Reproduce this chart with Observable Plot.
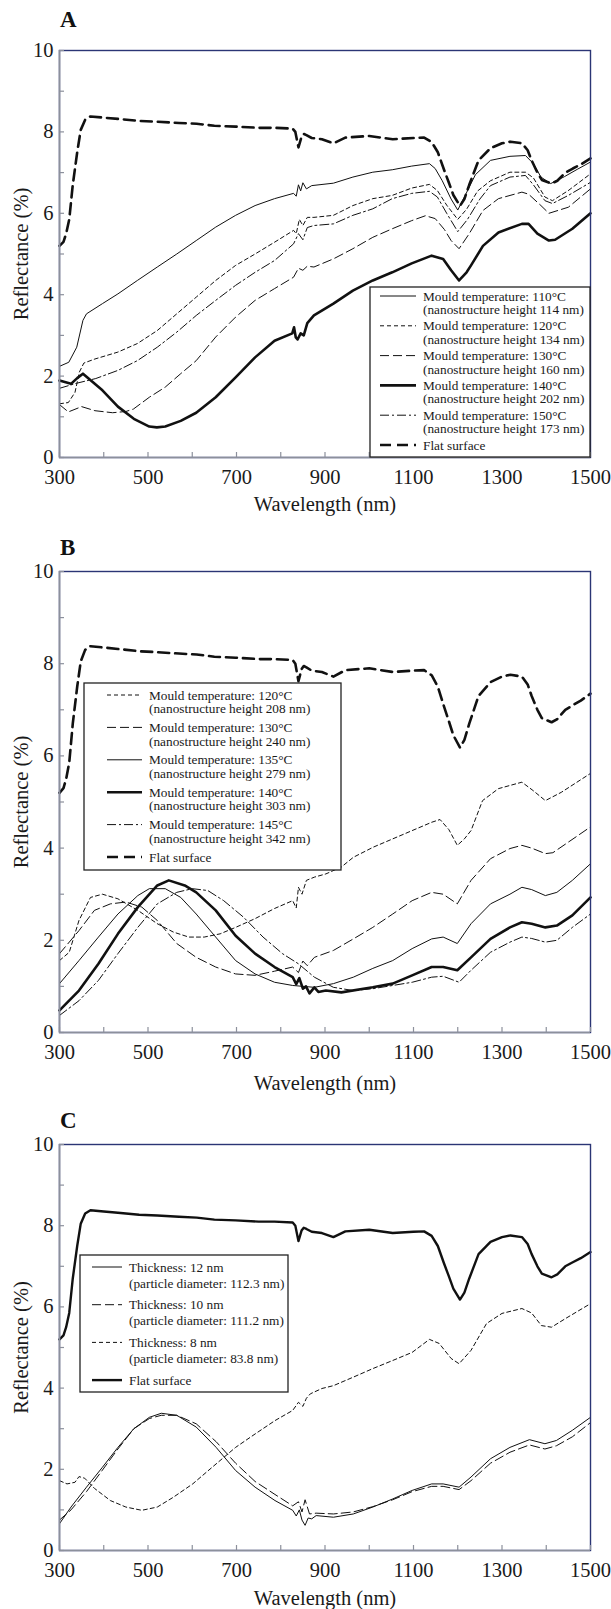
<!DOCTYPE html>
<html>
<head>
<meta charset="utf-8">
<script src="https://cdn.jsdelivr.net/npm/d3@7"></script>
<script src="https://cdn.jsdelivr.net/npm/@observablehq/plot@0.6"></script>
<style>
  html, body { margin: 0; padding: 0; background: #fff; }
  #wrap { position: relative; width: 611px; height: 1609px; overflow: hidden; background: #fff; }
  #wrap > svg { position: absolute; left: 0; }
  #wrap svg, #wrap svg text { font-family: 'Liberation Serif', 'Times New Roman', Times, serif !important; }
</style>
</head>
<body>
<div id="wrap"></div>
<script>
// ---------------- axis ticks ----------------
const X_MINOR = [300, 400, 500, 600, 700, 800, 900, 1000, 1100, 1200, 1300, 1400, 1500];
const X_LABELS = [300, 500, 700, 900, 1100, 1300, 1500];
const Y_MINOR = [0, 1, 2, 3, 4, 5, 6, 7, 8, 9, 10];
const Y_LABELS = [0, 2, 4, 6, 8, 10];

// ---------------- flat surface (same reference in A, B, C) ----------------
const flatNm = [300, 309, 315, 322, 330, 340, 348, 358, 370, 400, 432, 480, 521, 570, 610, 650, 698, 750, 786, 827, 833, 840, 847, 852, 858, 870, 893, 919, 946, 1000, 1053, 1100, 1124, 1141, 1155, 1168, 1180, 1190, 1205, 1215, 1226, 1247, 1274, 1300, 1319, 1345, 1358, 1367, 1380, 1390, 1412, 1425, 1443, 1460, 1478, 1500];
const flatR  = [5.2, 5.3, 5.5, 5.85, 6.7, 7.5, 8.05, 8.3, 8.38, 8.35, 8.32, 8.27, 8.25, 8.22, 8.2, 8.15, 8.13, 8.1, 8.1, 8.08, 8.0, 7.62, 7.88, 7.95, 7.92, 7.85, 7.82, 7.72, 7.86, 7.9, 7.82, 7.85, 7.86, 7.75, 7.5, 7.1, 6.75, 6.45, 6.18, 6.35, 6.7, 7.3, 7.6, 7.72, 7.76, 7.72, 7.55, 7.3, 7.0, 6.82, 6.73, 6.8, 7.0, 7.1, 7.2, 7.35];

// ---------------- panel A ----------------
const a110Nm = [300, 321, 339, 353, 361, 397, 432, 476, 521, 565, 609, 653, 698, 742, 786, 829, 835, 840, 845, 850, 858, 870, 919, 963, 1008, 1052, 1096, 1136, 1149, 1165, 1185, 1200, 1215, 1240, 1274, 1318, 1353, 1371, 1388, 1410, 1441, 1470, 1500];
const a110R  = [2.24, 2.34, 2.71, 3.37, 3.53, 3.78, 4.02, 4.35, 4.68, 5.0, 5.33, 5.66, 5.95, 6.19, 6.36, 6.49, 6.42, 6.7, 6.55, 6.75, 6.6, 6.68, 6.74, 6.89, 7.01, 7.07, 7.16, 7.22, 7.1, 6.8, 6.35, 6.08, 6.4, 6.95, 7.3, 7.4, 7.42, 7.22, 6.89, 6.73, 6.9, 7.08, 7.26];
const a120Nm = [300, 320, 335, 345, 355, 380, 432, 476, 521, 565, 609, 653, 698, 742, 786, 829, 835, 842, 850, 860, 875, 919, 963, 1008, 1052, 1096, 1136, 1154, 1175, 1200, 1220, 1245, 1274, 1318, 1353, 1371, 1397, 1414, 1450, 1500];
const a120R  = [1.32, 1.35, 1.6, 2.1, 2.32, 2.42, 2.59, 2.8, 3.12, 3.53, 3.94, 4.35, 4.72, 5.0, 5.29, 5.58, 5.5, 5.85, 5.7, 5.9, 5.9, 5.95, 6.19, 6.36, 6.44, 6.62, 6.71, 6.56, 6.2, 5.85, 6.1, 6.55, 6.8, 7.01, 7.01, 6.87, 6.4, 6.31, 6.56, 6.97];
const a130Nm = [300, 320, 350, 380, 420, 450, 467, 503, 539, 574, 609, 653, 698, 742, 786, 829, 840, 850, 860, 875, 919, 963, 1008, 1052, 1096, 1127, 1149, 1170, 1185, 1203, 1226, 1257, 1292, 1345, 1360, 1388, 1406, 1450, 1500];
const a130R  = [1.3, 1.12, 1.25, 1.15, 1.1, 1.13, 1.19, 1.48, 1.73, 2.06, 2.38, 2.96, 3.45, 3.86, 4.15, 4.43, 4.65, 4.6, 4.7, 4.68, 4.88, 5.13, 5.41, 5.62, 5.82, 5.94, 5.87, 5.6, 5.33, 5.13, 5.5, 6.07, 6.36, 6.52, 6.47, 6.19, 6.0, 6.15, 6.6];
const a140Nm = [300, 326, 340, 353, 371, 397, 432, 468, 503, 520, 539, 574, 609, 653, 698, 742, 786, 826, 830, 834, 838, 845, 852, 860, 875, 919, 963, 1008, 1052, 1096, 1141, 1167, 1185, 1203, 1220, 1230, 1257, 1292, 1345, 1360, 1380, 1406, 1420, 1459, 1500];
const a140R  = [1.89, 1.81, 1.95, 2.06, 1.89, 1.65, 1.25, 0.95, 0.76, 0.74, 0.76, 0.9, 1.1, 1.48, 1.97, 2.46, 2.87, 3.05, 3.2, 2.95, 2.9, 3.05, 3.0, 3.3, 3.49, 3.78, 4.1, 4.35, 4.55, 4.77, 4.96, 4.88, 4.6, 4.35, 4.55, 4.72, 5.2, 5.53, 5.74, 5.74, 5.5, 5.33, 5.35, 5.62, 6.0];
const a150Nm = [300, 337, 382, 432, 476, 521, 565, 609, 653, 698, 742, 786, 829, 840, 850, 860, 875, 919, 963, 1008, 1052, 1096, 1136, 1154, 1175, 1200, 1222, 1250, 1274, 1318, 1353, 1371, 1397, 1414, 1450, 1500];
const a150R  = [1.7, 1.82, 1.94, 2.14, 2.38, 2.71, 3.08, 3.49, 3.86, 4.23, 4.55, 4.84, 5.25, 5.5, 5.35, 5.65, 5.7, 5.74, 5.95, 6.11, 6.36, 6.49, 6.54, 6.4, 6.0, 5.55, 5.85, 6.35, 6.68, 6.89, 6.93, 6.7, 6.31, 6.24, 6.44, 6.76];

// ---------------- panel B ----------------
const b120Nm = [300, 322, 344, 370, 397, 432, 477, 521, 557, 592, 627, 663, 698, 742, 786, 827, 835, 840, 848, 858, 876, 902, 937, 964, 1009, 1053, 1097, 1141, 1160, 1180, 1199, 1215, 1230, 1256, 1292, 1345, 1370, 1398, 1434, 1500];
const b120R  = [1.56, 1.74, 2.43, 2.93, 3.0, 2.9, 2.65, 2.36, 2.18, 2.07, 2.07, 2.14, 2.28, 2.47, 2.69, 2.86, 2.7, 3.15, 3.0, 3.3, 3.37, 3.44, 3.59, 3.8, 4.02, 4.2, 4.38, 4.56, 4.62, 4.4, 4.06, 4.2, 4.38, 5.03, 5.29, 5.43, 5.25, 5.03, 5.21, 5.62];
const b130Nm = [300, 344, 379, 415, 450, 486, 521, 565, 609, 653, 698, 742, 786, 827, 840, 850, 860, 876, 919, 964, 1008, 1053, 1097, 1141, 1167, 1199, 1230, 1274, 1318, 1345, 1367, 1398, 1415, 1450, 1500];
const b130R  = [1.71, 2.21, 2.65, 2.79, 2.83, 2.72, 2.43, 1.93, 1.63, 1.42, 1.27, 1.24, 1.33, 1.42, 1.3, 1.55, 1.45, 1.63, 1.78, 2.03, 2.28, 2.57, 2.86, 3.04, 3.0, 2.79, 3.3, 3.77, 3.99, 4.06, 4.0, 3.88, 3.9, 4.13, 4.46];
const b135Nm = [300, 344, 388, 432, 477, 503, 539, 574, 609, 653, 698, 742, 786, 827, 876, 919, 964, 1008, 1053, 1097, 1141, 1167, 1199, 1230, 1274, 1318, 1345, 1367, 1398, 1424, 1459, 1500];
const b135R  = [1.06, 1.56, 2.07, 2.57, 2.97, 3.12, 3.12, 2.93, 2.57, 2.07, 1.56, 1.27, 1.09, 1.02, 0.98, 1.06, 1.2, 1.39, 1.56, 1.82, 2.03, 2.07, 1.93, 2.36, 2.79, 3.0, 3.15, 3.1, 2.97, 3.04, 3.3, 3.66];
const b140Nm = [300, 344, 388, 432, 477, 521, 547, 583, 609, 653, 698, 742, 786, 827, 835, 842, 850, 857, 865, 876, 885, 902, 937, 1008, 1053, 1097, 1141, 1167, 1199, 1230, 1274, 1318, 1345, 1367, 1398, 1424, 1459, 1500];
const b140R  = [0.48, 0.91, 1.49, 2.14, 2.72, 3.19, 3.3, 3.19, 3.04, 2.65, 2.1, 1.71, 1.42, 1.2, 1.05, 1.18, 0.95, 1.0, 0.85, 0.98, 0.88, 0.91, 0.87, 0.98, 1.06, 1.24, 1.42, 1.42, 1.35, 1.63, 2.03, 2.28, 2.39, 2.36, 2.28, 2.32, 2.54, 2.93];
const b145Nm = [300, 344, 388, 432, 477, 521, 565, 600, 635, 671, 716, 760, 804, 840, 876, 919, 964, 1008, 1053, 1097, 1141, 1167, 1203, 1230, 1274, 1318, 1345, 1367, 1398, 1424, 1459, 1500];
const b145R  = [0.37, 0.69, 1.13, 1.71, 2.28, 2.79, 3.04, 3.12, 3.08, 2.86, 2.5, 2.07, 1.71, 1.49, 1.2, 0.98, 0.91, 0.95, 1.02, 1.09, 1.2, 1.22, 1.09, 1.35, 1.74, 1.96, 2.07, 2.04, 1.96, 2.0, 2.28, 2.57];

// ---------------- panel C ----------------
const c12Nm = [300, 326, 361, 397, 432, 468, 503, 530, 565, 609, 654, 698, 742, 787, 827, 835, 842, 848, 855, 862, 870, 880, 919, 964, 1008, 1053, 1097, 1141, 1167, 1203, 1230, 1274, 1318, 1362, 1397, 1423, 1459, 1500];
const c12R  = [0.66, 1.07, 1.56, 2.05, 2.54, 3.0, 3.28, 3.38, 3.33, 3.04, 2.54, 1.97, 1.56, 1.23, 0.99, 0.85, 1.0, 0.75, 0.62, 0.8, 0.78, 0.86, 0.82, 0.9, 1.07, 1.27, 1.48, 1.64, 1.64, 1.56, 1.81, 2.26, 2.54, 2.73, 2.63, 2.71, 2.96, 3.28];
const c10Nm = [300, 326, 361, 397, 432, 468, 503, 530, 565, 609, 654, 698, 742, 787, 827, 840, 848, 855, 865, 880, 919, 964, 1008, 1053, 1097, 1141, 1167, 1203, 1230, 1274, 1318, 1362, 1397, 1423, 1459, 1500];
const c10R  = [0.75, 1.0, 1.45, 1.98, 2.5, 3.0, 3.25, 3.33, 3.33, 3.12, 2.68, 2.15, 1.7, 1.38, 1.1, 1.2, 0.95, 1.25, 0.9, 0.92, 0.9, 0.95, 1.08, 1.25, 1.45, 1.58, 1.58, 1.5, 1.72, 2.15, 2.42, 2.6, 2.5, 2.58, 2.8, 3.15];
const c8Nm  = [300, 317, 335, 344, 357, 379, 415, 450, 486, 521, 557, 601, 645, 698, 742, 787, 827, 840, 850, 858, 867, 893, 919, 964, 1008, 1053, 1097, 1136, 1158, 1185, 1203, 1230, 1265, 1300, 1345, 1367, 1389, 1412, 1443, 1500];
const c8R   = [1.72, 1.64, 1.68, 1.82, 1.78, 1.53, 1.23, 1.07, 0.99, 1.07, 1.31, 1.64, 2.05, 2.54, 2.87, 3.2, 3.45, 3.65, 3.55, 3.75, 3.86, 3.99, 4.06, 4.27, 4.48, 4.68, 4.88, 5.2, 5.1, 4.73, 4.6, 4.93, 5.59, 5.84, 5.96, 5.85, 5.54, 5.5, 5.71, 6.08];

// ---------------- legend labels ----------------
const legendA = [
  ["Mould temperature: 110°C", "(nanostructure height 114 nm)"],
  ["Mould temperature: 120°C", "(nanostructure height 134 nm)"],
  ["Mould temperature: 130°C", "(nanostructure height 160 nm)"],
  ["Mould temperature: 140°C", "(nanostructure height 202 nm)"],
  ["Mould temperature: 150°C", "(nanostructure height 173 nm)"],
  ["Flat surface"]
];
const legendB = [
  ["Mould temperature: 120°C", "(nanostructure height 208 nm)"],
  ["Mould temperature: 130°C", "(nanostructure height 240 nm)"],
  ["Mould temperature: 135°C", "(nanostructure height 279 nm)"],
  ["Mould temperature: 140°C", "(nanostructure height 303 nm)"],
  ["Mould temperature: 145°C", "(nanostructure height 342 nm)"],
  ["Flat surface"]
];
const legendC = [
  ["Thickness: 12 nm", "(particle diameter: 112.3 nm)"],
  ["Thickness: 10 nm", "(particle diameter: 111.2 nm)"],
  ["Thickness: 8 nm", "(particle diameter: 83.8 nm)"],
  ["Flat surface"]
];

// ---------------- styles ----------------
const INK = "#111";
const NAVY = "#2b3575";
const GRAY = "#8c909c";
const FONT = "'Liberation Serif', 'Times New Roman', Times, serif";
const STY = {
  thin:    {w: 1.0, dash: null},
  short:   {w: 1.0, dash: "4,3"},
  long:    {w: 1.0, dash: "9,4"},
  thick:   {w: 2.6, dash: null},
  dashdot: {w: 1.0, dash: "9,3,2,3"},
  flatDash:{w: 2.6, dash: "11,6"},
  flatSolid:{w: 2.4, dash: null}
};

const rows = (nm, r) => nm.map((v, i) => ({nm: v, r: r[i]}));

const panels = [
  { id: "A", top: 50, bottom: 457, labelBase: 27, xOff: 53,
    series: [
      [a110Nm, a110R, STY.thin], [a120Nm, a120R, STY.short], [a130Nm, a130R, STY.long],
      [a140Nm, a140R, STY.thick], [a150Nm, a150R, STY.dashdot], [flatNm, flatR, STY.flatDash]],
    legend: {labels: legendA, styles: [STY.thin, STY.short, STY.long, STY.thick, STY.dashdot, STY.flatDash],
      x: 370, y: 287, w: 220, h: 170, l1: 380, l2: 416, tx: 423, first: 296, row: 29.8, gap: 13.3}
  },
  { id: "B", top: 571, bottom: 1032, labelBase: 555, xOff: 57,
    series: [
      [b120Nm, b120R, STY.short], [b130Nm, b130R, STY.long], [b135Nm, b135R, STY.thin],
      [b140Nm, b140R, STY.thick], [b145Nm, b145R, STY.dashdot], [flatNm, flatR, STY.flatDash]],
    legend: {labels: legendB, styles: [STY.short, STY.long, STY.thin, STY.thick, STY.dashdot, STY.flatDash],
      x: 84, y: 683, w: 257, h: 187, l1: 107, l2: 142, tx: 149, first: 695, row: 32.4, gap: 13.5}
  },
  { id: "C", top: 1144, bottom: 1550, labelBase: 1128, xOff: 54,
    series: [
      [c12Nm, c12R, STY.thin], [c10Nm, c10R, STY.long], [c8Nm, c8R, STY.short], [flatNm, flatR, STY.flatSolid]],
    legend: {labels: legendC, styles: [STY.thin, STY.long, STY.short, STY.flatSolid],
      x: 80, y: 1255, w: 208, h: 137, l1: 92, l2: 122, tx: 129, first: 1267, row: 37.7, gap: 16}
  }
];

const wrap = document.getElementById("wrap");
const W = 611, ML = 59, MR = 21, MT = 10, MB = 70;

for (const p of panels) {
  const plotH = p.bottom - p.top;
  const plotW = W - ML - MR;
  const chart = Plot.plot({
    width: W,
    height: plotH + MT + MB,
    marginLeft: ML, marginRight: MR, marginTop: MT, marginBottom: MB,
    x: {domain: [300, 1500]},
    y: {domain: [0, 10]},
    style: {fontFamily: FONT, fontSize: "20.5px", color: "#1a1a1a", background: "transparent", overflow: "visible"},
    marks: [
      ...p.series.map(([nm, r, s]) => Plot.line(rows(nm, r), {
        x: "nm", y: "r", stroke: INK, strokeWidth: s.w, strokeDasharray: s.dash, strokeLinejoin: "round"
      })),
      Plot.frame({stroke: NAVY, strokeWidth: 1.4}),
      Plot.ruleX([300], {stroke: GRAY, strokeWidth: 1.6}),
      Plot.ruleY([0], {stroke: GRAY, strokeWidth: 1.6}),
      Plot.tickX(X_MINOR, {x: d => d, stroke: GRAY, strokeWidth: 1.2, insetTop: plotH - 5}),
      Plot.tickY(Y_MINOR, {y: d => d, stroke: GRAY, strokeWidth: 1.2, insetRight: plotW - 5}),
      Plot.axisX({ticks: X_LABELS, tickSize: 0, tickPadding: 12, stroke: "none", tickFormat: d => String(d),
        label: "Wavelength (nm)", labelAnchor: "center", labelArrow: "none", labelOffset: p.xOff}),
      Plot.axisY({ticks: Y_LABELS, tickSize: 0, tickPadding: 6, stroke: "none", tickFormat: d => String(d),
        label: "Reflectance (%)", labelAnchor: "center", labelArrow: "none", labelOffset: 46})
    ]
  });
  chart.style.top = (p.top - MT) + "px";
  chart.setAttribute("font-family", FONT);
  wrap.appendChild(chart);
}

// overlay: panel letters and legends
const ov = d3.select(wrap).append("svg")
  .attr("width", W).attr("height", 1609)
  .style("top", "0px").style("pointer-events", "none")
  .style("font-family", FONT);

for (const p of panels) {
  ov.append("text").attr("x", 60).attr("y", p.labelBase)
    .attr("font-size", 23).attr("font-weight", "bold").attr("fill", "#111").text(p.id);
  const L = p.legend;
  const g = ov.append("g");
  g.append("rect").attr("x", L.x).attr("y", L.y).attr("width", L.w).attr("height", L.h)
    .attr("fill", "#fff").attr("stroke", "#222").attr("stroke-width", 1.3);
  L.labels.forEach((lines, i) => {
    const y0 = L.first + i * L.row;
    const s = L.styles[i];
    g.append("line").attr("x1", L.l1).attr("x2", L.l2).attr("y1", y0).attr("y2", y0)
      .attr("stroke", INK).attr("stroke-width", s.w).attr("stroke-dasharray", s.dash);
    lines.forEach((t, j) => {
      g.append("text").attr("x", L.tx).attr("y", y0 + j * L.gap)
        .attr("dy", "0.35em").attr("font-size", 13.3).attr("fill", "#1a1a1a").text(t);
    });
  });
}
</script>
</body>
</html>
